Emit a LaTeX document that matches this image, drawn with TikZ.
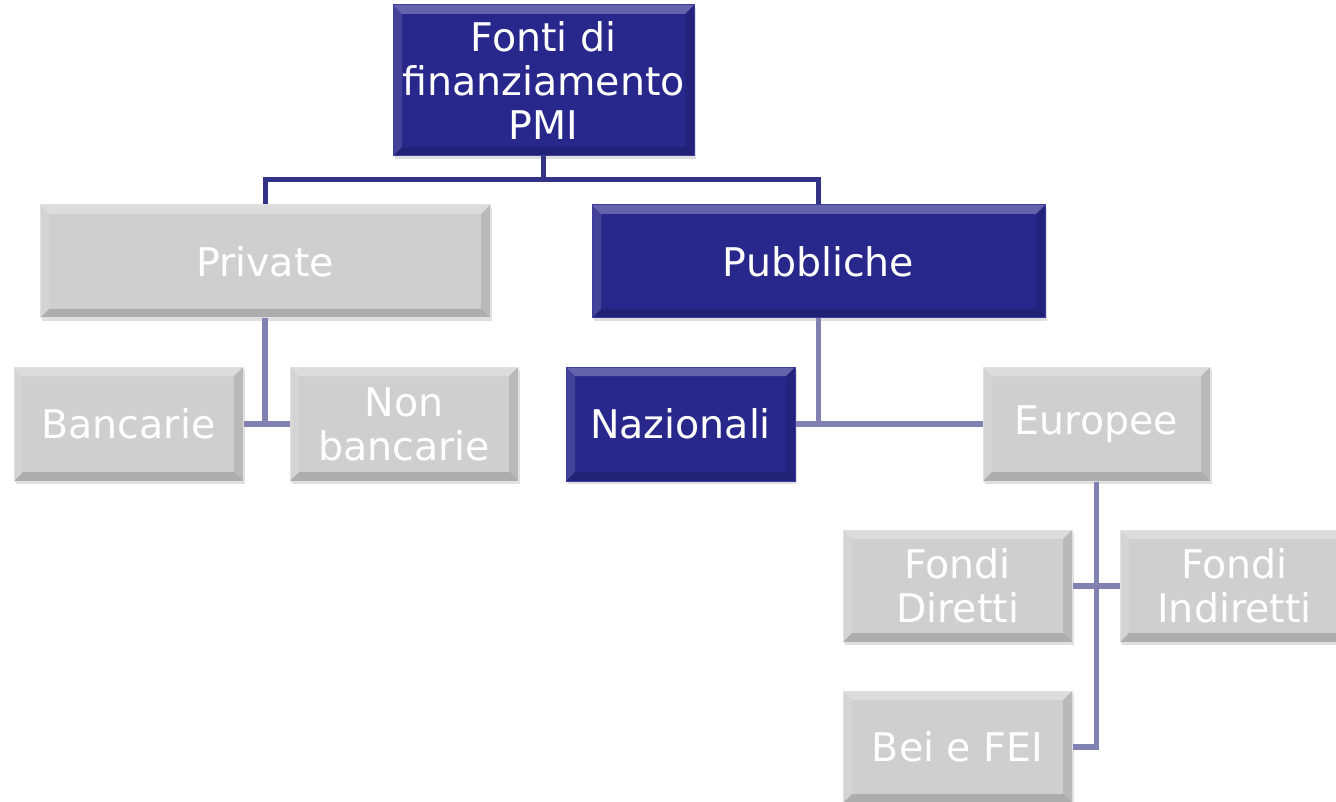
\documentclass[tikz,border=0pt]{standalone}
\usepackage{fontspec}
\setmainfont{DejaVu Sans}
\usetikzlibrary{shadows}
\definecolor{navybox}{RGB}{40,40,140}
\definecolor{navyedge}{RGB}{60,60,160}
\definecolor{graybox}{RGB}{207,207,207}
\definecolor{grayedge}{RGB}{225,225,225}
\definecolor{linetop}{RGB}{50,50,135}
\definecolor{linelow}{RGB}{130,130,178}
\tikzset{
  box/.style={rectangle, text=white, align=center, inner sep=0pt,
    font=\fontsize{39.5}{44}\selectfont, line width=1pt,
    drop shadow={shadow xshift=2pt, shadow yshift=-3pt, opacity=0.25},
    path picture={
      \fill[white, opacity=0.28] (path picture bounding box.north west) -- (path picture bounding box.north east)
        -- ([xshift=-9pt,yshift=-9pt]path picture bounding box.north east) -- ([xshift=9pt,yshift=-9pt]path picture bounding box.north west) -- cycle;
      \fill[white, opacity=0.12] (path picture bounding box.north west) -- ([xshift=9pt,yshift=-9pt]path picture bounding box.north west)
        -- ([xshift=9pt,yshift=9pt]path picture bounding box.south west) -- (path picture bounding box.south west) -- cycle;
      \fill[black, opacity=0.10] (path picture bounding box.north east) -- ([xshift=-9pt,yshift=-9pt]path picture bounding box.north east)
        -- ([xshift=-9pt,yshift=9pt]path picture bounding box.south east) -- (path picture bounding box.south east) -- cycle;
      \fill[black, opacity=0.16] (path picture bounding box.south west) -- ([xshift=9pt,yshift=9pt]path picture bounding box.south west)
        -- ([xshift=-9pt,yshift=9pt]path picture bounding box.south east) -- (path picture bounding box.south east) -- cycle;
    }},
  bluebox/.style={box, fill=navybox, draw=navyedge},
  graybx/.style={box, fill=graybox, draw=grayedge},
  toplink/.style={draw=linetop, line width=5pt},
  lowlink/.style={draw=linelow, line width=5.5pt},
}
\begin{document}
\begin{tikzpicture}[x=1pt,y=-1pt]
\useasboundingbox (0,0) rectangle (1336,802);
\clip (0,0) rectangle (1336,802);
\fill[white] (0,0) rectangle (1336,802);
% nodes
\node[bluebox, minimum width=301pt, minimum height=151pt] (top) at (543.5,80.5) {Fonti di\\finanziamento\\PMI};
\node[graybx, minimum width=450pt, minimum height=113pt] (priv) at (265,261.5) {Private};
\node[bluebox, minimum width=453pt, minimum height=113pt] (pubb) at (818.5,261.5) {Pubbliche};
\node[graybx, minimum width=229pt, minimum height=114pt] (banc) at (128.5,424) {Bancarie};
\node[graybx, minimum width=228pt, minimum height=114pt] (nonb) at (404,424) {Non\\bancarie};
\node[bluebox, minimum width=229pt, minimum height=114pt] (naz) at (680.5,424) {Nazionali};
\node[graybx, minimum width=227pt, minimum height=114pt] (eur) at (1096.5,424) {Europee};
\node[graybx, minimum width=229pt, minimum height=112pt] (fd) at (957.5,586) {Fondi\\Diretti};
\node[graybx, minimum width=229pt, minimum height=112pt] (fi) at (1234.5,586) {Fondi\\Indiretti};
\node[graybx, minimum width=229pt, minimum height=112pt] (bei) at (957.5,747) {Bei e FEI};
% connectors
\coordinate (tj) at (543.5,180);
\draw[toplink] (top.south) -- (tj) -| (priv.north);
\draw[toplink] (tj) -| (pubb.north);
\draw[lowlink] (priv.south) |- (banc.east);
\draw[lowlink] (priv.south) |- (nonb.west);
\draw[lowlink] (pubb.south) |- (naz.east);
\draw[lowlink] (pubb.south) |- (eur.west);
\draw[lowlink] (eur.south) |- (fd.east);
\draw[lowlink] (eur.south) |- (fi.west);
\draw[lowlink] (eur.south) |- (bei.east);
\end{tikzpicture}
\end{document}
